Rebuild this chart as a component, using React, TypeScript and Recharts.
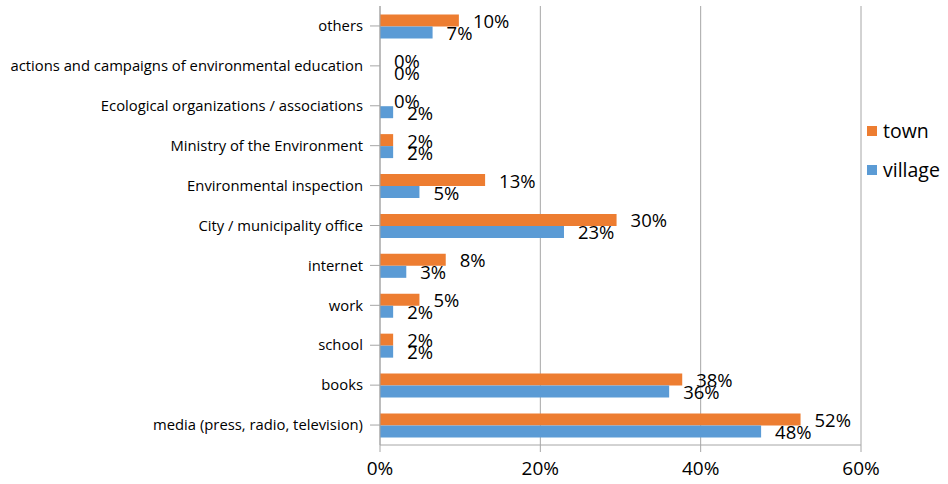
import { BarChart, Bar, XAxis, YAxis, CartesianGrid, Legend, LabelList } from "recharts";

const categories = [
  "others",
  "actions and campaigns of environmental education",
  "Ecological organizations / associations",
  "Ministry of the Environment",
  "Environmental inspection",
  "City / municipality office",
  "internet",
  "work",
  "school",
  "books",
  "media (press, radio, television)",
];
const town = [9.84, 0, 0, 1.64, 13.11, 29.51, 8.2, 4.92, 1.64, 37.7, 52.46];
const village = [6.56, 0, 1.64, 1.64, 4.92, 22.95, 3.28, 1.64, 1.64, 36.07, 47.54];
const xTicks = [0, 20, 40, 60];

const ORANGE = "#ED7D31";
const BLUE = "#5B9BD5";
const FONT = "'Open Sans', sans-serif";

const data = categories.map((name, i) => ({ name, town: town[i], village: village[i] }));

const pct = (v: any) => `${Math.round(Number(v))}%`;

const LegendBox = () => (
  <div style={{ width: 87, fontFamily: FONT, fontSize: 19.5, color: "#000" }}>
    {[
      { label: "town", color: ORANGE },
      { label: "village", color: BLUE },
    ].map((s) => (
      <div key={s.label} style={{ display: "flex", alignItems: "center", height: 39, paddingLeft: 6 }}>
        <span style={{ width: 10, height: 10, background: s.color, marginRight: 6 }} />
        <span>{s.label}</span>
      </div>
    ))}
  </div>
);

export default function App() {
  return (
    <div style={{ position: "absolute", left: 0, top: 0 }}>
      <BarChart
        width={948}
        height={484}
        data={data}
        layout="vertical"
        margin={{ top: 6, right: 0, bottom: 0, left: 0 }}
        barCategoryGap="21%"
        barGap={0}
      >
        <CartesianGrid horizontal={false} stroke="#a6a6a6" />
        <XAxis
          type="number"
          domain={[0, 60]}
          ticks={xTicks}
          tickFormatter={(v) => `${v}%`}
          stroke="#a6a6a6"
          tickSize={7}
          tickMargin={10}
          height={39}
          tick={{ fill: "#000", fontSize: 19, fontFamily: FONT }}
        />
        <YAxis
          type="category"
          dataKey="name"
          width={380}
          stroke="#a6a6a6"
          tickSize={10}
          tickMargin={7}
          interval={0}
          tick={{ fill: "#000", fontSize: 14.8, fontFamily: FONT }}
        />
        <Legend
          layout="vertical"
          align="right"
          verticalAlign="top"
          wrapperStyle={{ top: 111 }}
          content={() => <LegendBox />}
        />
        <Bar dataKey="town" fill={ORANGE} minPointSize={0.01} isAnimationActive={false}>
          <LabelList dataKey="town" position="right" offset={14} formatter={pct} fill="#000" fontSize={18.5} fontFamily={FONT} dy={1} />
        </Bar>
        <Bar dataKey="village" fill={BLUE} minPointSize={0.01} isAnimationActive={false}>
          <LabelList dataKey="village" position="right" offset={14} formatter={pct} fill="#000" fontSize={18.5} fontFamily={FONT} dy={1} />
        </Bar>
      </BarChart>
    </div>
  );
}
